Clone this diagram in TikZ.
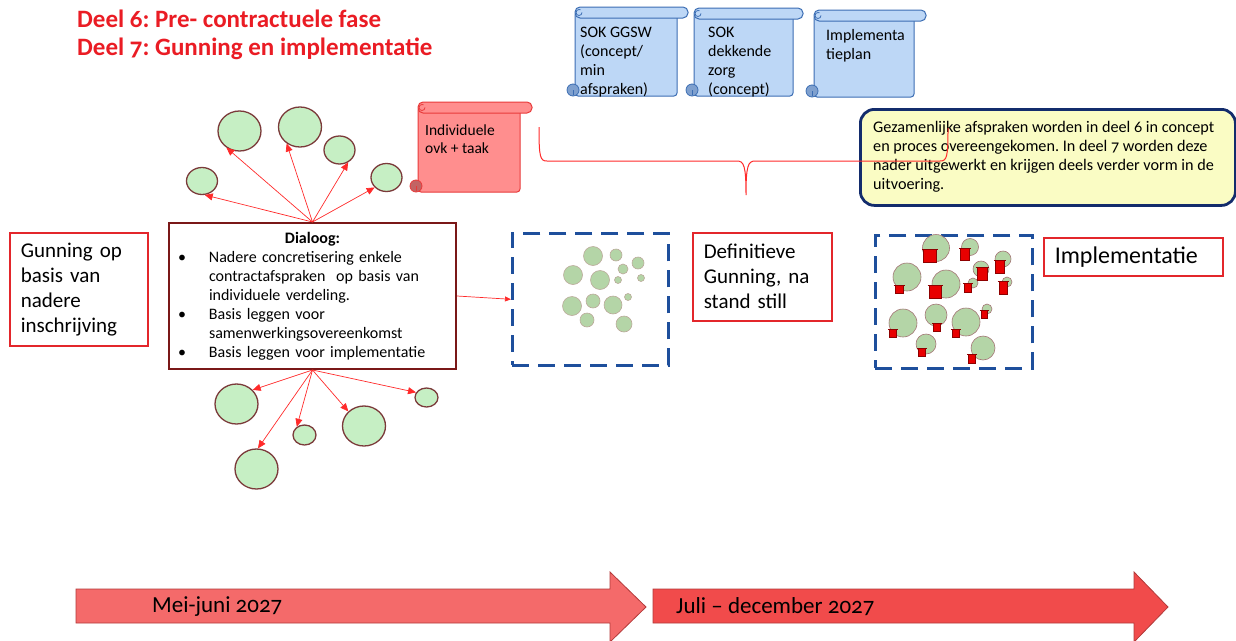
\documentclass[tikz,border=0pt]{standalone}
\usepackage{fontspec}
\setmainfont{Carlito}[Numbers=OldStyle]
\usetikzlibrary{arrows.meta,shapes.geometric}
\frenchspacing
\definecolor{titlered}{HTML}{EA1C24}
\definecolor{boxred}{HTML}{E3262B}
\definecolor{maroon}{HTML}{7A1818}
\definecolor{navy}{HTML}{1E4F9C}
\definecolor{navydark}{HTML}{132C6C}
\definecolor{yelfill}{HTML}{FAFCC4}
\definecolor{bubfill}{HTML}{C6EFC4}
\definecolor{bubedge}{HTML}{7B3A3A}
\definecolor{minifill}{HTML}{B4D5A7}
\definecolor{miniedge}{HTML}{BBA99A}
\definecolor{arrred}{HTML}{FF2A2A}
\definecolor{scrblue}{HTML}{BDD7F6}
\definecolor{scrblueedge}{HTML}{3B6DB3}
\definecolor{scrbluecurl}{HTML}{7FA0CE}
\definecolor{scrred}{HTML}{FF8E8E}
\definecolor{scrrededge}{HTML}{E83A3A}
\definecolor{scrredcurl}{HTML}{C26464}
\definecolor{tl1}{HTML}{F46A6A}
\definecolor{tl2}{HTML}{F14B4B}
\definecolor{tledge}{HTML}{B23A3A}
\definecolor{icored}{HTML}{E80000}
\definecolor{icoedge}{HTML}{8E0000}
\newcommand\scrollshape[8]{%
  \draw[draw=#7, fill=#6, line width=1pt, rounded corners=3pt] (#1,#2+5) rectangle (#3,#4);
  \draw[draw=#7, fill=#6, line width=1pt, rounded corners=5pt] (#1,#2) rectangle (#5,#2+11);
  \draw[draw=#7, line width=0.8pt] (#1+7,#2+5.5) arc[start angle=0, end angle=300, radius=3];
  \draw[draw=#7, fill=#8, line width=0.8pt] (#1-2,#4-6) circle (6);
  \draw[draw=#7, line width=0.8pt] (#1-2,#4-6) -- (#1-2,#4-1);
}
\newcommand\redicon[4]{%
  \draw[draw=icoedge, fill=icored, line width=0.5pt] (#1-#3/2,#2-#4/2) rectangle (#1+#3/2,#2+#4/2);
  \draw[draw=icoedge, line width=0.8pt] (#1-#3/2-1.5,#2-#4/2) -- (#1+#3/2+1.5,#2-#4/2);
}
\newcommand\dlgbul{\makebox[28pt][l]{\hspace{-3pt}\textbullet}}
\begin{document}
\begin{tikzpicture}[x=1pt,y=-1pt,
  titletext/.style={text=titlered, font=\fontsize{25}{28}\selectfont\bfseries, inner sep=0pt},
  redbox/.style={draw=boxred, line width=1.5pt, rectangle, inner xsep=11pt, inner ysep=0pt,
    font=\fontsize{21}{25}\selectfont, align=left, anchor=north west},
  bubble/.style={ellipse, draw=bubedge, fill=bubfill, line width=1.3pt, inner sep=0pt},
  minib/.style={draw=miniedge, fill=minifill, line width=0.6pt},
  fanarrow/.style={draw=arrred, line width=0.7pt, -{Triangle[length=8pt,width=7pt]}},
  dashedbox/.style={draw=navy, line width=2.6pt, dash pattern=on 17pt off 9pt, rectangle, anchor=north west, inner sep=0pt},
  scrolltext/.style={inner sep=0pt, anchor=north west, align=left, font=\fontsize{16}{19}\selectfont},
  timetext/.style={inner sep=0pt, anchor=west, font=\fontsize{23}{26}\selectfont}
]
\useasboundingbox (0,0) rectangle (1236,640);

% titles
\node[titletext, anchor=base west] (t1) at (77,27) {Deel 6: Pre- contractuele fase};
\node[titletext, anchor=base west] (t2) at (77,55) {Deel 7: Gunning en implementatie};

% blue scrolls
\scrollshape{575}{7}{677}{96}{688}{scrblue}{scrblueedge}{scrbluecurl}
\scrollshape{694}{8}{793}{96}{803}{scrblue}{scrblueedge}{scrbluecurl}
\scrollshape{814}{10}{914}{97}{926}{scrblue}{scrblueedge}{scrbluecurl}
\node[scrolltext] (s1) at (580,24) {\strut SOK GGSW\\(concept/\\min\\afspraken)};
\node[scrolltext] (s2) at (708,24) {\strut SOK\\dekkende\\zorg\\(concept)};
\node[scrolltext] (s3) at (826,27) {\strut Implementa\\tieplan};

% red scroll
\scrollshape{418}{102}{520}{192}{532}{scrred}{scrrededge}{scrredcurl}
\node[scrolltext, font=\fontsize{15.5}{18.5}\selectfont] (rs) at (425,122) {\strut Individuele\\ovk + taak};

% yellow note
\node[draw=navydark, fill=yelfill, line width=2.8pt, rounded corners=14pt, anchor=north west,
  minimum width=375pt, minimum height=96pt, inner sep=0pt] (note) at (859,108) {};
\node[inner sep=0pt, anchor=west, align=left, font=\fontsize{16.2}{19}\selectfont] (notetext) at (873,157)
  {Gezamenlijke afspraken worden in deel 6 in concept\\en proces overeengekomen. In deel 7 worden deze\\nader uitgewerkt en krijgen deels verder vorm in de\\uitvoering.};

% brace
\draw[draw=arrred, line width=1pt] (539,127) .. controls (539,157) and (540,161) .. (547,161)
  -- (737,161) .. controls (744,161) and (746,166) .. (746,195)
  .. controls (746,166) and (748,161) .. (755,161)
  -- (940,161) .. controls (947,161) and (948,157) .. (948,128);

% left boxes
\node[redbox, text width=116pt, minimum height=113pt] (gun) at (9,232)
  {Gunning op\\basis van\\nadere\\inschrijving};
\node[redbox, text width=117pt, minimum height=88pt] (def) at (692,232)
  {Definitieve\\Gunning, na\\stand still};
\node[redbox, text width=157pt, minimum height=38pt, font=\fontsize{24}{28}\selectfont] (imp) at (1043,237)
  {Implementatie};

% dialoog box
\node[draw=maroon, line width=2pt, rectangle, anchor=north west, inner xsep=12pt, inner ysep=0pt,
  text width=263pt, minimum height=146pt, align=left, font=\fontsize{16}{19}\selectfont] (dlg) at (168,222)
  {\makebox[263pt][c]{\bfseries Dialoog:}\\
   \dlgbul Nadere concretisering enkele\\
   \hspace*{28pt}contractafspraken\ \ op basis van\\
   \hspace*{28pt}individuele verdeling.\\
   \dlgbul Basis leggen voor\\
   \hspace*{28pt}samenwerkingsovereenkomst\\
   \dlgbul Basis leggen voor implementatie};

% bubbles
\node[bubble, minimum width=31pt, minimum height=27pt] (c1) at (202,181) {};
\node[bubble, minimum width=43pt, minimum height=40pt] (c2) at (239.5,131) {};
\node[bubble, minimum width=43pt, minimum height=40pt] (c3) at (300,127) {};
\node[bubble, minimum width=31pt, minimum height=28pt] (c4) at (339.5,150) {};
\node[bubble, minimum width=31pt, minimum height=28pt] (c5) at (386.5,177.5) {};
\node[bubble, minimum width=43pt, minimum height=40pt] (b1) at (236.5,404) {};
\node[bubble, minimum width=43pt, minimum height=40pt] (b2) at (256.5,469) {};
\node[bubble, minimum width=23pt, minimum height=20pt] (b3) at (304.5,435) {};
\node[bubble, minimum width=43pt, minimum height=40pt] (b4) at (364,426) {};
\node[bubble, minimum width=23pt, minimum height=19pt] (b5) at (426.5,397.5) {};
\foreach \t/\a in {c1/281,c2/232,c3/231,c4/305,c5/220} {\draw[fanarrow] (dlg.north) -- (\t.\a);}
\foreach \t/\a in {b1/41,b2/86,b3/133,b4/137,b5/154} {\draw[fanarrow] (dlg.south) -- (\t.\a);}

% dashed boxes
\node[dashedbox, minimum width=156pt, minimum height=132pt] (fin) at (511,232) {};
\node[dashedbox, minimum width=157pt, minimum height=133pt] (impbox) at (874,234) {};
\draw[fanarrow, -{Triangle[length=6pt,width=5pt]}] (dlg.east) -- (fin.west);

\foreach \x/\y/\r in {593/256/9.5, 616/255/6, 638/263/6, 623/269/5, 573/275/9.5, 600/280/9.5,
  618/280/3.5, 641/278/3.5, 572/306/9.5, 593/301/7, 613/305/9, 628/297/3.5, 587/320/7, 624/324/8}
  {\draw[minib] (\x,\y) circle (\r);}

\foreach \x/\y/\r in {936/248/13.5, 970/247/8.5, 1003/259/8, 981/269/8, 907/277/14, 946/284/14,
  973/283/5, 1007/282/5, 903/323/14, 936/315/11, 966/322/14, 987/309/5, 926/344/10, 983/348/12}
  {\draw[minib, draw=bubedge!70] (\x,\y) circle (\r);}
\foreach \x/\y/\w/\h in {930/256/13/13, 965/254/9/12, 1000/267/9/13, 982/274/10/13, 899/289/8/8,
  935/292/12/13, 968/288/7/9, 1003/288/8/13, 893/333/7/8, 937/327/7/8, 956/333/7/8, 984/314/6/8,
  922/352/7/8, 972/359/7/9}
  {\redicon{\x}{\y}{\w}{\h}}

% timeline
\draw[draw=tledge, fill=tl1, line width=0.8pt] (76,589) -- (610,589) -- (610,572) -- (646,607)
  -- (610,642) -- (610,623) -- (76,623) -- cycle;
\draw[draw=tledge, fill=tl2, line width=0.8pt] (653,589) -- (1134,589) -- (1134,572) -- (1168,607)
  -- (1134,642) -- (1134,623) -- (653,623) -- cycle;
\node[timetext] (m1) at (152,607) {Mei-juni 2027};
\node[timetext] (m2) at (676,607) {Juli – december 2027};
\end{tikzpicture}
\end{document}
